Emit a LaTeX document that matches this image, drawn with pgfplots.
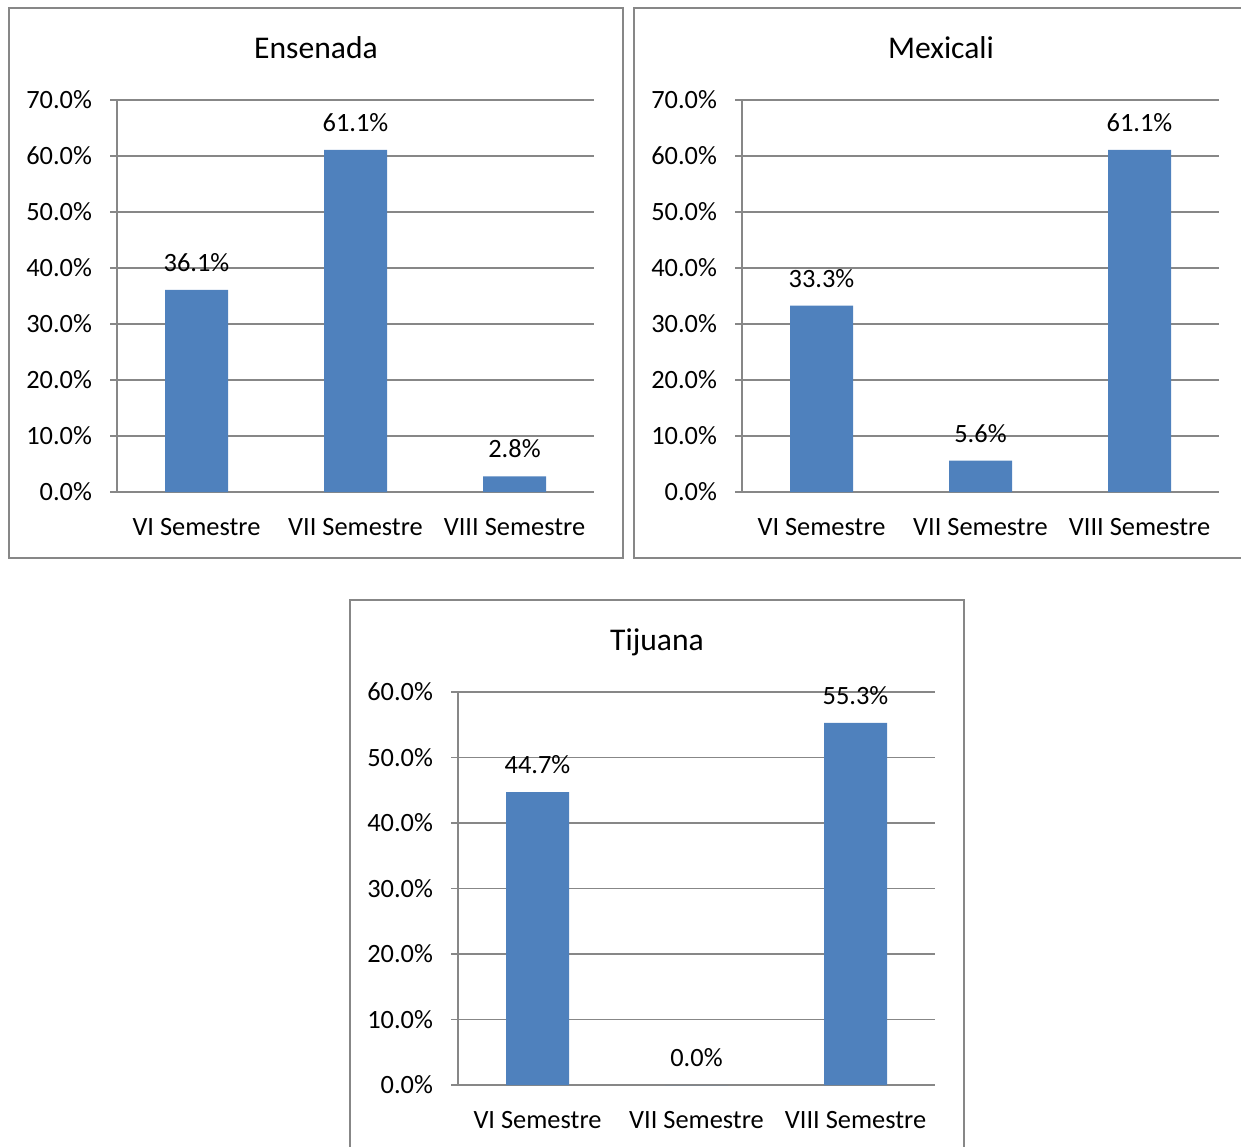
\documentclass[border=0pt]{standalone}
\usepackage{fontspec}
\setmainfont{Carlito}
\usepackage{pgfplots}
\pgfplotsset{compat=1.18}
\definecolor{barblue}{HTML}{4F81BD}
\definecolor{axgray}{HTML}{878787}
\pgfplotsset{
  semchart/.style={
    scale only axis,
    width=238.5pt,
    anchor=south west,
    ymin=0,
    xmin=-0.5, xmax=2.5,
    axis x line*=bottom,
    axis y line*=left,
    axis line style={draw=axgray, line width=0.7pt, -},
    ymajorgrids,
    major grid style={draw=axgray, line width=0.7pt},
    ytick distance=10,
    tick align=outside,
    ytick style={draw=axgray, line width=0.7pt},
    y tick label style={font=\fontsize{13.2}{15}\selectfont, xshift=-5.5pt},
    yticklabel={\pgfmathprintnumber[fixed,fixed zerofill,precision=1]{\tick}\%},
    xtick={0,1,2},
    xticklabels={VI Semestre, VII Semestre, VIII Semestre},
    x tick style={draw=none},
    x tick label style={font=\fontsize{13.2}{15}\selectfont, yshift=-6pt},
    extra x ticks={-0.5,0.5,1.5,2.5},
    extra x tick labels={},
    extra x tick style={grid=none, major tick length=4pt, tick style={draw=axgray, line width=0.7pt}},
    major tick length=3.5pt,
    /pgf/number format/assume math mode=true,
    ybar, bar width=31.5pt,
    nodes near coords={\pgfmathprintnumber[fixed,fixed zerofill,precision=1]{\pgfplotspointmeta}\%},
    nodes near coords style={font=\fontsize{13.2}{15}\selectfont, anchor=base, inner sep=0pt, yshift=9.25pt},
    clip=false,
  }
}
\begin{document}
\begin{tikzpicture}
\path[use as bounding box] (0,0) rectangle (620.5pt,-573pt);
% frames
\draw[axgray, line width=0.8pt] (4.5pt,-4pt) rectangle (311.5pt,-279pt);
\draw[axgray, line width=0.8pt] (317pt,-4pt) rectangle (630pt,-279pt);
\draw[axgray, line width=0.8pt] (175pt,-300pt) rectangle (482pt,-590pt);
% titles
\node[font=\fontsize{15.8}{18}\selectfont] at (158pt,-24pt) {Ensenada};
\node[font=\fontsize{15.8}{18}\selectfont] at (470.5pt,-24pt) {Mexicali};
\node[font=\fontsize{15.8}{18}\selectfont] at (328.5pt,-321pt) {Tijuana};

\begin{axis}[semchart, at={(58.5pt,-246pt)}, height=196pt, ymax=70]
\addplot[fill=barblue, draw=none] coordinates {(0,36.1) (1,61.1) (2,2.8)};
\end{axis}

\begin{axis}[semchart, at={(371pt,-246pt)}, height=196pt, ymax=70]
\addplot[fill=barblue, draw=none] coordinates {(0,33.3) (1,5.6) (2,61.1)};
\end{axis}

\begin{axis}[semchart, at={(229pt,-542.5pt)}, height=196.5pt, ymax=60]
\addplot[fill=barblue, draw=none] coordinates {(0,44.7) (1,0.0) (2,55.3)};
\end{axis}
\end{tikzpicture}
\end{document}
